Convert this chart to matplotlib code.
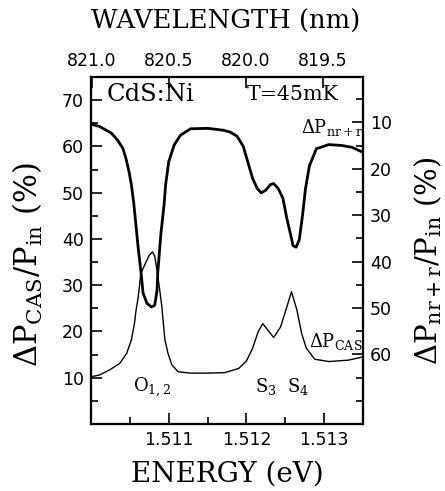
import matplotlib
matplotlib.use("Agg")
import matplotlib.pyplot as plt
from matplotlib.ticker import MultipleLocator, FixedLocator

# ---------------- data ----------------
energy_nrr = [1.51000, 1.51011, 1.51026, 1.51034, 1.51041, 1.51045, 1.51049, 1.51052,
              1.51055, 1.51061, 1.51064, 1.51067, 1.51072, 1.51078, 1.51082, 1.51085,
              1.51086, 1.51090, 1.51094, 1.51096, 1.51100, 1.51107, 1.51115, 1.51128,
              1.51150, 1.51170, 1.51179, 1.51188, 1.51196, 1.51202, 1.51208, 1.51214,
              1.51219, 1.51225, 1.51231, 1.51235, 1.51241, 1.51247, 1.51252, 1.51257,
              1.51260, 1.51264, 1.51268, 1.51272, 1.51276, 1.51281, 1.51290, 1.51306,
              1.51323, 1.51336, 1.51349]
dp_nrr = [10.4, 10.9, 12.3, 13.8, 15.6, 17.8, 20.7, 23.5,
          27.4, 37.5, 41.8, 46.8, 49.0, 49.8, 49.4, 46.2,
          42.2, 33.9, 27.8, 23.5, 18.5, 14.9, 12.8, 11.4,
          11.3, 11.7, 12.1, 13.0, 15.2, 18.7, 22.1, 24.3,
          25.2, 24.6, 23.4, 23.2, 24.3, 26.4, 30.7, 34.3,
          36.6, 36.9, 35.3, 30.3, 24.3, 19.4, 15.7, 14.8,
          15.0, 15.4, 16.4]

energy_cas = [1.51000, 1.51011, 1.51024, 1.51037, 1.51046, 1.51052, 1.51056, 1.51058,
              1.51060, 1.51062, 1.51064, 1.51068, 1.51075, 1.51079, 1.51082, 1.51085,
              1.51088, 1.51091, 1.51093, 1.51095, 1.51099, 1.51104, 1.51112, 1.51128,
              1.51150, 1.51172, 1.51190, 1.51200, 1.51208, 1.51215, 1.51221, 1.51228,
              1.51235, 1.51244, 1.51252, 1.51258, 1.51265, 1.51271, 1.51277, 1.51288,
              1.51306, 1.51331, 1.51350]
dp_cas = [10.2, 10.6, 11.7, 13.1, 15.3, 18.2, 21.8, 24.6,
          26.6, 29.2, 32.4, 34.0, 36.5, 37.2, 36.3, 33.1,
          29.5, 25.6, 22.0, 18.3, 15.3, 12.8, 11.3, 11.0,
          11.0, 11.1, 12.0, 13.6, 16.4, 19.9, 21.7, 20.2,
          18.7, 21.0, 25.3, 28.6, 24.6, 19.6, 16.4, 14.0,
          13.5, 13.8, 14.5]

energy_ticks = [1.511, 1.512, 1.513]
energy_ticklabels = ["1.511", "1.512", "1.513"]
wavelength_ticks = [821.0, 820.5, 820.0, 819.5]
wavelength_ticklabels = ["821.0", "820.5", "820.0", "819.5"]
left_ticks = [10, 20, 30, 40, 50, 60, 70]
right_ticks = [10, 20, 30, 40, 50, 60]

# ---------------- figure ----------------
plt.rcParams['mathtext.fontset'] = 'dejavuserif'
W, H = 445, 491
fig = plt.figure(figsize=(W / 100, H / 100), dpi=100)
ax = fig.add_axes([91 / W, 1 - 424 / H, (363 - 91) / W, (424 - 77) / H])

tickfont = dict(family='DejaVu Sans', size=12.5)
serif = 'DejaVu Serif'

ax.plot(energy_cas, dp_cas, color='black', lw=1.0)
ax.set_xlim(1.5100, 1.5135)
ax.set_ylim(0, 75)
ax.xaxis.set_major_locator(FixedLocator(energy_ticks))
ax.set_xticklabels(energy_ticklabels, **tickfont)
ax.xaxis.set_minor_locator(MultipleLocator(0.0005))
ax.yaxis.set_major_locator(FixedLocator(left_ticks))
ax.set_yticklabels([str(t) for t in left_ticks], **tickfont)
ax.yaxis.set_minor_locator(MultipleLocator(5))
ax.tick_params(which='both', direction='in', top=False, right=False, width=1.2)
ax.tick_params(which='major', length=8, pad=5)
ax.tick_params(which='minor', length=5)

# right (inverted) axis for nr+r
axr = ax.twinx()
axr.plot(energy_nrr, dp_nrr, color='black', lw=2.0)
axr.set_ylim(75.0, 0.24)
axr.yaxis.set_major_locator(FixedLocator(right_ticks))
axr.set_yticklabels([str(t) for t in right_ticks], **tickfont)
axr.yaxis.set_minor_locator(MultipleLocator(5))
axr.tick_params(which='both', direction='in', width=1.2)
axr.tick_params(which='major', length=8, pad=5)
axr.tick_params(which='minor', length=5)

# top wavelength axis
axt = ax.twiny()
axt.set_xlim(821.006, 819.24)
axt.xaxis.set_major_locator(FixedLocator(wavelength_ticks))
axt.set_xticklabels(wavelength_ticklabels, **tickfont)
axt.tick_params(which='both', direction='in', length=8, width=1.2, pad=5)

for a in (ax, axr, axt):
    for s in a.spines.values():
        s.set_linewidth(1.5)

# axis labels
fig.text(227 / W, 1 - 474 / H, 'ENERGY (eV)', family=serif, size=20, ha='center', va='center')
fig.text(226 / W, 1 - 21 / H, 'WAVELENGTH (nm)', family=serif, size=18.6, ha='center', va='center')
fig.text(28 / W, 1 - 265 / H, r'$\Delta$P$_{\rm CAS}$/P$_{\rm in}$ (%)', family=serif, size=22,
         rotation=90, ha='center', va='center')
fig.text(428 / W, 1 - 261 / H, r'$\Delta$P$_{\rm nr+r}$/P$_{\rm in}$ (%)', family=serif, size=21,
         rotation=90, ha='center', va='center')

# annotations
ax.text(1.51020, 71.3, 'CdS:Ni', family=serif, size=17.5, ha='left', va='center')
ax.text(1.51201, 71.3, 'T=45mK', family=serif, size=14.8, ha='left', va='center')
ax.text(1.51270, 62.8, r'$\Delta$P$_{\rm nr+r}$', family=serif, size=13, ha='left', va='baseline')
ax.text(1.51281, 16.7, r'$\Delta$P$_{\rm CAS}$', family=serif, size=13, ha='left', va='baseline')
ax.text(1.51054, 6.9, r'O$_{\rm 1,2}$', family=serif, size=13, ha='left', va='baseline')
ax.text(1.51211, 6.9, r'S$_{\rm 3}$  S$_{\rm 4}$', family=serif, size=13, ha='left', va='baseline')

fig.savefig('out.png', dpi=100)
